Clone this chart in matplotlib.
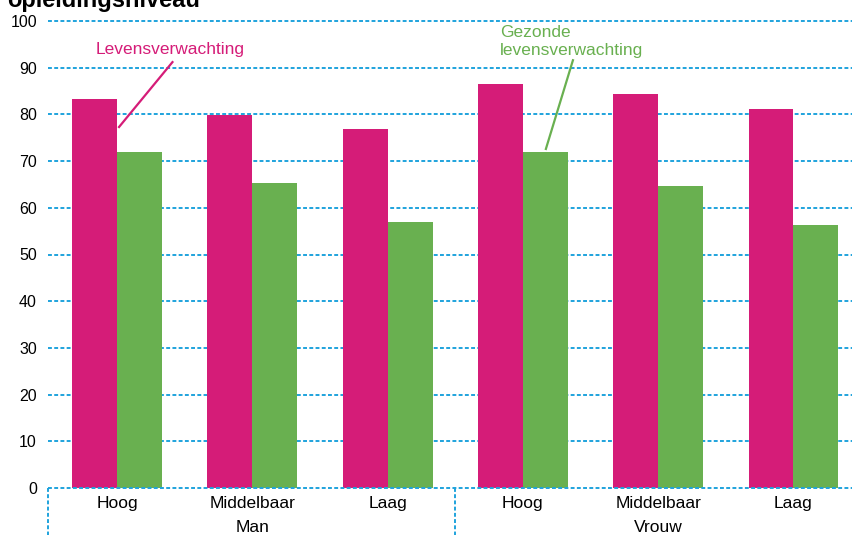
import matplotlib.pyplot as plt
import matplotlib.transforms as mtransforms
import numpy as np

plt.rcParams['font.family'] = ['Liberation Sans', 'DejaVu Sans']

# data
levels = ['Hoog', 'Middelbaar', 'Laag', 'Hoog', 'Middelbaar', 'Laag']
groups = ['Man', 'Vrouw']
levensverwachting = [83.3, 79.9, 76.9, 86.5, 84.4, 81.2]
gezonde = [72.0, 65.3, 57.0, 72.0, 64.7, 56.3]
yticks = [0, 10, 20, 30, 40, 50, 60, 70, 80, 90, 100]

pink = '#D51C78'
green = '#69B050'
blue = '#1FA3DD'

fig = plt.figure(figsize=(8.53, 5.35), dpi=100)
ax = fig.add_axes([48 / 853, 1 - 488 / 535, 1 - 48 / 853, (488 - 21) / 535])

x = np.arange(len(levels))
w = 0.332
ax.bar(x - w / 2, levensverwachting, w, color=pink, zorder=3)
ax.bar(x + w / 2, gezonde, w, color=green, zorder=3)

ax.set_xlim(-0.51, 5.44)
ax.set_ylim(0, 100)
ax.set_yticks(yticks)
ax.tick_params(axis='y', length=0, pad=8, labelsize=11.5)
ax.set_xticks(x)
ax.set_xticklabels(levels)
ax.tick_params(axis='x', length=0, pad=6, labelsize=12.5)
for s in ax.spines.values():
    s.set_visible(False)

# dotted grid
for t in yticks:
    ax.axhline(t, color=blue, lw=1.4, ls=(0, (2, 1.2)), zorder=1 if t else 4, clip_on=False)

# vertical separators below the axis
trans = mtransforms.blended_transform_factory(ax.transData, ax.transAxes)
for xs in [-0.51, 2.5]:
    ax.plot([xs, xs], [0, -0.11], color=blue, lw=1.4, ls=(0, (2, 1.2)),
            transform=trans, clip_on=False)

# group labels
for i, g in enumerate(groups):
    ax.text(1 + 3 * i, -0.084, g, transform=trans, ha='center', va='center', fontsize=12.5)

# annotations
ax.text(0.39, 93.8, 'Levensverwachting', color=pink, ha='center', va='center', fontsize=12.5)
ax.plot([0.41, 0.015], [91.2, 77.3], color=pink, lw=1.6, zorder=5)
ax.text(2.83, 95.7, 'Gezonde\nlevensverwachting', color=green, ha='left', va='center',
        fontsize=12.5, linespacing=1.25)
ax.plot([3.37, 3.17], [91.6, 72.6], color=green, lw=1.6, zorder=5)

# cut off title
fig.text(0.008, 1 - 7 / 535, 'opleidingsniveau', fontsize=17, fontweight='bold',
         ha='left', va='baseline')

fig.savefig('out.png', dpi=100)
